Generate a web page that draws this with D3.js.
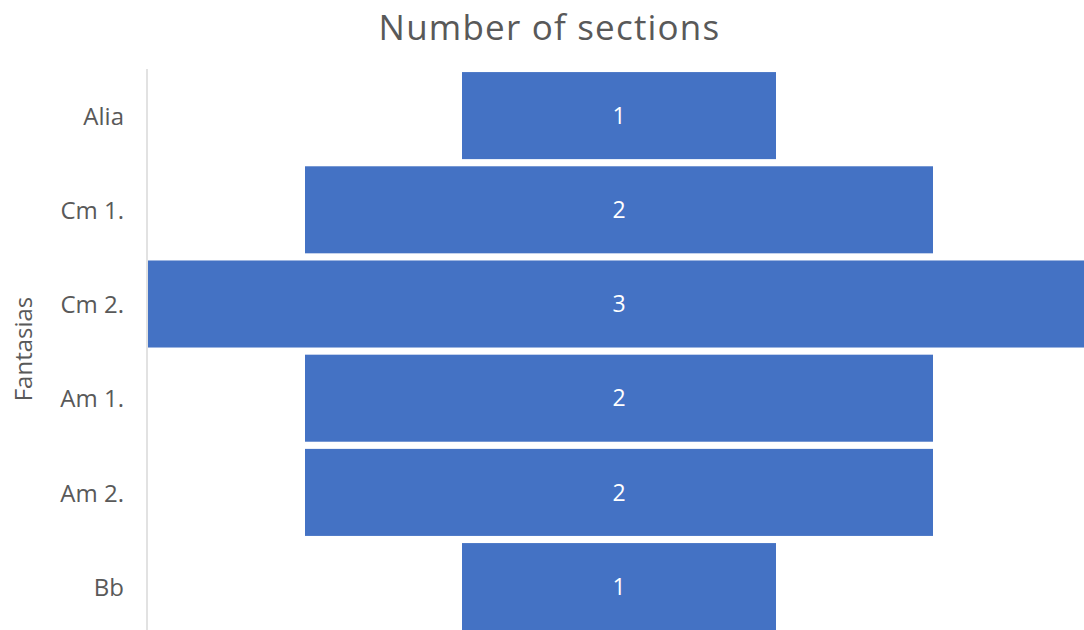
<!DOCTYPE html>
<html>
<head>
<meta charset="utf-8">
<script src="https://cdn.jsdelivr.net/npm/d3@7"></script>
<style>
  html, body { margin: 0; padding: 0; background: #fff; overflow: hidden; }
  svg { display: block; }
  text { font-family: "Open Sans", "Noto Sans", sans-serif; }
</style>
</head>
<body>
<svg id="chart" width="1084" height="630"></svg>
<script>
const categories = ["Alia", "Cm 1.", "Cm 2.", "Am 1.", "Am 2.", "Bb"];
const values = [1, 2, 3, 2, 2, 1];
const chartTitle = "Number of sections";
const axisTitle = "Fantasias";

const W = 1084, H = 630;
const svg = d3.select("#chart");

const centerX = 619;
const axisX = 147;

const y = d3.scaleBand()
  .domain(categories)
  .range([68.5, 633.7])
  .paddingInner(0.076)
  .paddingOuter(0.038);

const halfW = d3.scaleLinear().domain([0, 3]).range([0, 471]);

// bars
svg.append("g").selectAll("rect")
  .data(categories)
  .join("rect")
  .attr("x", (d, i) => centerX - halfW(values[i]))
  .attr("y", d => y(d))
  .attr("width", (d, i) => 2 * halfW(values[i]))
  .attr("height", y.bandwidth())
  .attr("fill", "#4472c4");

// value labels
svg.append("g").selectAll("text")
  .data(categories)
  .join("text")
  .attr("x", centerX)
  .attr("y", d => y(d) + y.bandwidth() / 2)
  .attr("dy", "0.36em")
  .attr("text-anchor", "middle")
  .attr("font-size", 23)
  .attr("fill", "#ffffff")
  .text((d, i) => values[i]);

// y axis
const yAxis = d3.axisLeft(y).tickSize(0).tickPadding(23);
const gAxis = svg.append("g")
  .attr("transform", `translate(${axisX},0)`)
  .call(yAxis);
gAxis.select(".domain").remove();
gAxis.selectAll("text")
  .attr("font-size", 24)
  .attr("dy", "0.38em")
  .attr("fill", "#595959")
  .style("font-family", '"Open Sans", "Noto Sans", sans-serif');

svg.append("line")
  .attr("x1", axisX).attr("x2", axisX)
  .attr("y1", 69).attr("y2", H)
  .attr("stroke", "#d9d9d9")
  .attr("stroke-width", 1.5);

// title
svg.append("text")
  .attr("x", 549.5)
  .attr("y", 40)
  .attr("text-anchor", "middle")
  .attr("font-size", 35)
  .attr("letter-spacing", 1.2)
  .attr("fill", "#595959")
  .text(chartTitle);

// axis title
svg.append("text")
  .attr("transform", `translate(32,349) rotate(-90)`)
  .attr("text-anchor", "middle")
  .attr("font-size", 24)
  .attr("fill", "#595959")
  .text(axisTitle);
</script>
</body>
</html>
